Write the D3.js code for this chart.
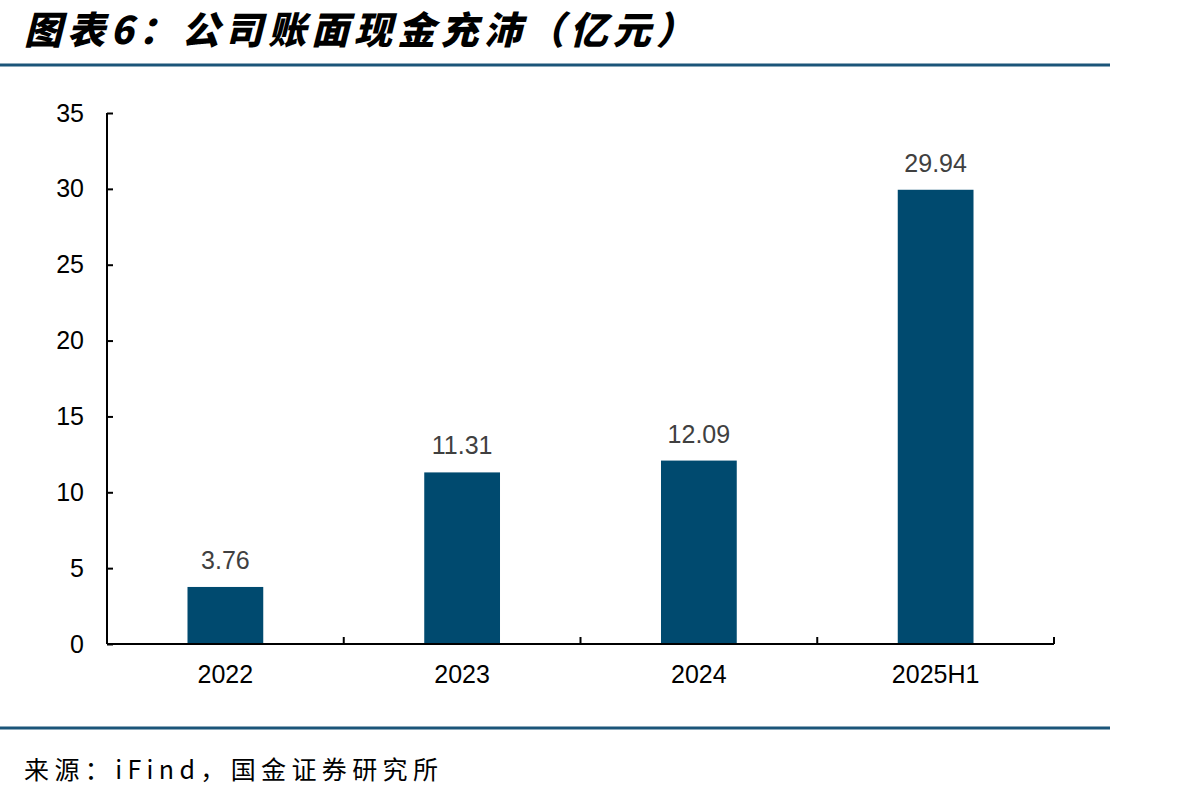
<!DOCTYPE html>
<html><head><meta charset="utf-8">
<script src="https://cdn.jsdelivr.net/npm/d3@7/dist/d3.min.js"></script>
<style>body{margin:0;background:#fff}svg{display:block}</style>
</head><body>
<svg id="c" width="1198" height="800"></svg>
<script>
const categories = ["2022", "2023", "2024", "2025H1"];
const values = [3.76, 11.31, 12.09, 29.94];
const valueLabels = ["3.76", "11.31", "12.09", "29.94"];
const yTicks = [0, 5, 10, 15, 20, 25, 30, 35];
const titleText = "图表6：公司账面现金充沛（亿元）";
const sourceText = "来源：iFind，国金证券研究所";

const svg = d3.select("#c");
const m = {left: 107, right: 1054, top: 113, bottom: 644};
const x = d3.scaleBand().domain(categories).range([m.left, m.right]).paddingInner(0.68).paddingOuter(0.34);
const xb = d3.scaleBand().domain(categories).range([m.left, m.right]);
const y = d3.scaleLinear().domain([0, 35]).range([m.bottom, m.top]);

// title
svg.append("text").attr("x", 24).attr("y", 44)
  .attr("font-family", "'Noto Sans CJK SC'").attr("font-weight", 900).attr("font-style", "italic")
  .attr("font-size", 38).attr("fill", "#000")
  .attr("textLength", 670).attr("lengthAdjust", "spacing")
  .text(titleText);

// rules
svg.append("rect").attr("x", 0).attr("y", 63.5).attr("width", 1110).attr("height", 3).attr("fill", "#1b5579");
svg.append("rect").attr("x", 0).attr("y", 726.5).attr("width", 1110).attr("height", 3).attr("fill", "#1b5579");

// bars
svg.append("g").selectAll("rect").data(values).join("rect")
  .attr("x", (d, i) => x(categories[i]))
  .attr("width", x.bandwidth())
  .attr("y", d => y(d))
  .attr("height", d => y(0) - y(d))
  .attr("fill", "#004a6f");

// value labels
svg.append("g").selectAll("text").data(values).join("text")
  .attr("x", (d, i) => x(categories[i]) + x.bandwidth() / 2)
  .attr("y", d => y(d) - 18)
  .attr("text-anchor", "middle")
  .attr("font-family", "'Liberation Sans', Arial, sans-serif")
  .attr("font-size", 25).attr("fill", "#404040")
  .text((d, i) => valueLabels[i]);

// y axis
const ya = svg.append("g").attr("transform", `translate(${m.left},0)`)
  .call(d3.axisLeft(y).tickValues(yTicks).tickSize(-6).tickPadding(23).tickFormat(d3.format("d")));
ya.select(".domain").remove();
ya.append("line").attr("x1", 0).attr("x2", 0).attr("y1", m.top).attr("y2", m.bottom).attr("stroke", "#000").attr("stroke-width", 2);
ya.selectAll(".tick line").attr("stroke", "#000").attr("stroke-width", 2);
ya.selectAll(".tick text").attr("font-family", "'Liberation Sans', Arial, sans-serif").attr("font-size", 25).attr("fill", "#000");

// x axis
const xa = svg.append("g").attr("transform", `translate(0,${m.bottom})`);
xa.append("line").attr("x1", m.left).attr("x2", m.right).attr("y1", 0).attr("y2", 0).attr("stroke", "#000").attr("stroke-width", 2);
xa.selectAll("line.tk").data(categories).join("line").attr("class", "tk")
  .attr("x1", d => xb(d) + xb.bandwidth()).attr("x2", d => xb(d) + xb.bandwidth())
  .attr("y1", 0).attr("y2", -7).attr("stroke", "#000").attr("stroke-width", 2);
xa.selectAll("text").data(categories).join("text")
  .attr("x", d => xb(d) + xb.bandwidth() / 2).attr("y", 39)
  .attr("text-anchor", "middle")
  .attr("font-family", "'Liberation Sans', Arial, sans-serif").attr("font-size", 25).attr("fill", "#000")
  .text(d => d);

// source
svg.append("text").attr("x", 24).attr("y", 779)
  .attr("font-family", "'Noto Sans CJK SC'").attr("font-size", 25).attr("fill", "#000")
  .attr("textLength", 414).attr("lengthAdjust", "spacing")
  .text(sourceText);
</script>
</body></html>
